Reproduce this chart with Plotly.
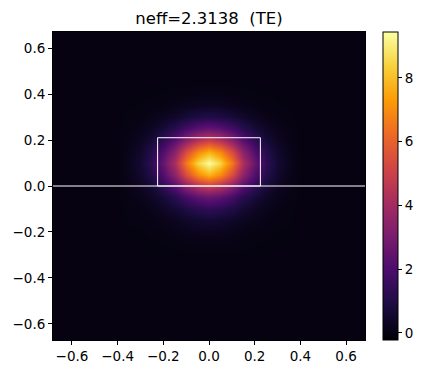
import numpy as np
import plotly.graph_objects as go

# Mode intensity on a 0.05 grid (core region), background ~0
x_core = [round(-0.35 + 0.05 * i, 2) for i in range(15)]
y_core = [round(-0.25 + 0.05 * j, 2) for j in range(14)]
field_core = [
    [0.00, 0.01, 0.01, 0.02, 0.04, 0.06, 0.08, 0.09, 0.08, 0.06, 0.04, 0.02, 0.01, 0.01, 0.00],  # -0.25
    [0.01, 0.01, 0.03, 0.06, 0.11, 0.17, 0.22, 0.24, 0.22, 0.17, 0.11, 0.06, 0.03, 0.01, 0.01],  # -0.20
    [0.02, 0.04, 0.09, 0.16, 0.27, 0.43, 0.55, 0.61, 0.55, 0.43, 0.27, 0.16, 0.09, 0.04, 0.02],  # -0.15
    [0.03, 0.08, 0.18, 0.36, 0.59, 0.92, 1.19, 1.32, 1.19, 0.92, 0.59, 0.36, 0.18, 0.08, 0.03],  # -0.10
    [0.07, 0.16, 0.37, 0.71, 1.18, 1.84, 2.37, 2.63, 2.37, 1.84, 1.18, 0.71, 0.37, 0.16, 0.07],  # -0.05
    [0.12, 0.29, 0.68, 1.32, 2.20, 3.42, 4.40, 4.89, 4.40, 3.42, 2.20, 1.32, 0.68, 0.29, 0.12],  # 0.00
    [0.19, 0.46, 1.08, 2.08, 3.47, 5.40, 6.94, 7.71, 6.94, 5.40, 3.47, 2.08, 1.08, 0.46, 0.19],  # 0.05
    [0.24, 0.56, 1.32, 2.54, 4.23, 6.58, 8.46, 9.40, 8.46, 6.58, 4.23, 2.54, 1.32, 0.56, 0.24],  # 0.10
    [0.19, 0.46, 1.08, 2.08, 3.47, 5.40, 6.94, 7.71, 6.94, 5.40, 3.47, 2.08, 1.08, 0.46, 0.19],  # 0.15
    [0.12, 0.29, 0.68, 1.32, 2.20, 3.42, 4.40, 4.89, 4.40, 3.42, 2.20, 1.32, 0.68, 0.29, 0.12],  # 0.20
    [0.07, 0.16, 0.37, 0.71, 1.18, 1.84, 2.37, 2.63, 2.37, 1.84, 1.18, 0.71, 0.37, 0.16, 0.07],  # 0.25
    [0.03, 0.06, 0.14, 0.28, 0.46, 0.72, 0.93, 1.03, 0.93, 0.72, 0.46, 0.28, 0.14, 0.06, 0.03],  # 0.30
    [0.01, 0.02, 0.05, 0.09, 0.15, 0.23, 0.30, 0.33, 0.30, 0.23, 0.15, 0.09, 0.05, 0.02, 0.01],  # 0.35
    [0.00, 0.01, 0.01, 0.02, 0.04, 0.06, 0.08, 0.09, 0.08, 0.06, 0.04, 0.02, 0.01, 0.01, 0.00],  # 0.40
]
background = 0.0

# Waveguide core outline and substrate interface
core_x = [-0.225, 0.225]
core_y = [0.0, 0.21]
interface_y = 0.0

title_text = "neff=2.3138  (TE)"
x_ticks = [-0.6, -0.4, -0.2, 0.0, 0.2, 0.4, 0.6]
y_ticks = [-0.6, -0.4, -0.2, 0.0, 0.2, 0.4, 0.6]
cbar_ticks = [0, 2, 4, 6, 8]
z_min, z_max = -0.22, 9.44
x_range = [-0.683, 0.683]
y_range = [-0.67, 0.67]

# full grid: pad core block with background out to the domain edge
x_full = [round(-0.70 + 0.05 * i, 2) for i in range(29)]
y_full = [round(-0.70 + 0.05 * j, 2) for j in range(29)]
z = np.full((len(y_full), len(x_full)), background)
ix0 = x_full.index(x_core[0])
iy0 = y_full.index(y_core[0])
z[iy0:iy0 + len(y_core), ix0:ix0 + len(x_core)] = np.array(field_core)

fig = go.Figure()
fig.add_trace(go.Heatmap(
    x=x_full, y=y_full, z=z,
    colorscale="Inferno", zmin=z_min, zmax=z_max, zsmooth="best",
    colorbar=dict(
        x=1.058, xanchor="left", xref="paper", xpad=0, ypad=0,
        y=0.5, yanchor="middle", len=1.0, lenmode="fraction",
        thickness=15, outlinewidth=1, outlinecolor="black",
        tickvals=cbar_ticks, ticks="outside", ticklen=4, tickcolor="black",
        tickfont=dict(family="DejaVu Sans", size=13.5, color="black"),
    ),
    hoverinfo="skip",
))
# core rectangle
fig.add_trace(go.Scatter(
    x=[core_x[0], core_x[0], core_x[1], core_x[1], core_x[0]],
    y=[core_y[0], core_y[1], core_y[1], core_y[0], core_y[0]],
    mode="lines", line=dict(color="white", width=1), showlegend=False, hoverinfo="skip",
))
# interface line
fig.add_trace(go.Scatter(
    x=x_range, y=[interface_y, interface_y],
    mode="lines", line=dict(color="white", width=1), showlegend=False, hoverinfo="skip",
))

axis_common = dict(
    showgrid=False, zeroline=False, ticks="outside", ticklen=4, tickcolor="black",
    showline=True, linecolor="black", linewidth=1, mirror=True, automargin=False,
    tickformat=".1f", tickfont=dict(family="DejaVu Sans", size=13.5, color="black"),
)
fig.update_layout(
    width=426, height=374,
    margin=dict(l=53, r=61, t=32, b=34, autoexpand=False),
    paper_bgcolor="white", plot_bgcolor="#03020c",
    title=dict(text=title_text, x=0.5, xref="paper", y=1 - 18 / 374, yref="container",
               xanchor="center", yanchor="middle",
               font=dict(family="DejaVu Sans", size=16.5, color="black")),
    xaxis=dict(range=x_range, tickvals=x_ticks, **axis_common),
    yaxis=dict(range=y_range, tickvals=y_ticks, **axis_common),
    showlegend=False,
)
fig.write_html("out.html", config={"displayModeBar": False},
               post_script="document.body.style.margin='0';document.body.style.padding='0';")
